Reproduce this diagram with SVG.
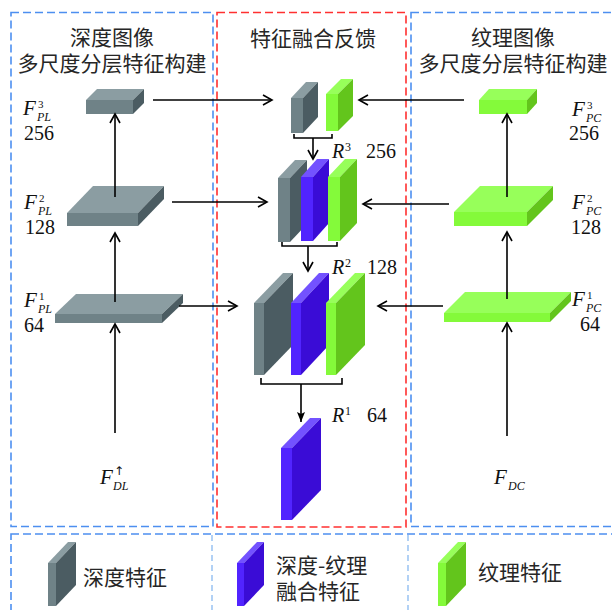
<svg xmlns="http://www.w3.org/2000/svg" width="612" height="610" viewBox="0 0 612 610">
<style>
.bx{fill:none;stroke:#4d8ff0;stroke-width:1.6;stroke-dasharray:8 4}
.rx{fill:none;stroke:#ff3030;stroke-width:1.6;stroke-dasharray:8 4}
.dv{fill:none;stroke:#7fb3ee;stroke-width:1.2;stroke-dasharray:6 4}
.gt{fill:#8b9da2}.gf{fill:#6f8287}.gs{fill:#4b5c62}
.bt{fill:#7352ff}.bf{fill:#5124ff}.bs{fill:#3a0cd6}
.lt{fill:#97ff5a}.lf{fill:#84fa3a}.ls{fill:#63c51c}
.cn{font-family:"Noto Sans CJK SC",sans-serif;font-size:21px;fill:#262626}
.sr{font-family:"Liberation Serif",serif;fill:#111}
.it{font-style:italic}
.ln{fill:none;stroke:#000;stroke-width:1.6}
</style>
<defs>
<marker id="ah" markerWidth="12" markerHeight="12" refX="10" refY="6" orient="auto" markerUnits="userSpaceOnUse"><path d="M1,1 L10,6 L1,11" fill="none" stroke="#000" stroke-width="1.6"/></marker>
<marker id="af" markerWidth="12" markerHeight="10" refX="10" refY="4" orient="auto" markerUnits="userSpaceOnUse"><path d="M0,0 L10,4 L0,8 L2,4 z" fill="#000"/></marker>
</defs>

<g id="frames">
<rect class="bx" x="11" y="12.5" width="202" height="514"/>
<rect class="rx" x="217" y="12.5" width="189" height="514.5"/>
<rect class="bx" x="411" y="12.5" width="215" height="514"/>
<rect class="bx" x="11" y="534" width="615" height="90"/>
<line class="dv" x1="212" y1="535" x2="212" y2="612"/>
<line class="dv" x1="408" y1="535" x2="408" y2="612"/>
</g>

<g id="titles">
<text class="cn" x="112" y="45" text-anchor="middle">深度图像</text>
<text class="cn" x="112" y="71" text-anchor="middle">多尺度分层特征构建</text>
<text class="cn" x="313" y="46" text-anchor="middle">特征融合反馈</text>
<text class="cn" x="513" y="45" text-anchor="middle">纹理图像</text>
<text class="cn" x="513" y="71" text-anchor="middle">多尺度分层特征构建</text>
</g>

<g id="F3PL">
<polygon class="gt" points="86,100 97,89 144,89 133,100"/>
<polygon class="gs" points="133,100 144,89 144,103 133,114"/>
<rect class="gf" x="86" y="100" width="47" height="14"/>
<text class="sr"><tspan class="it" x="23" y="115" font-size="21">F</tspan><tspan x="38" y="108" font-size="11">3</tspan><tspan class="it" x="37" y="121" font-size="12">PL</tspan></text>
<text class="sr" x="24" y="140" font-size="20">256</text>
</g>
<g id="F2PL">
<polygon class="gt" points="67,213 93,186 164,186 138,213"/>
<polygon class="gs" points="138,213 164,186 164,199 138,226"/>
<rect class="gf" x="67" y="213" width="71" height="13"/>
<text class="sr"><tspan class="it" x="24" y="209" font-size="21">F</tspan><tspan x="39" y="202" font-size="11">2</tspan><tspan class="it" x="38" y="215" font-size="12">PL</tspan></text>
<text class="sr" x="25" y="234" font-size="20">128</text>
</g>
<g id="F1PL">
<polygon class="gt" points="55,314 76,294 183,294 162,314"/>
<polygon class="gs" points="162,314 183,294 183,303 162,323"/>
<rect class="gf" x="55" y="314" width="107" height="9"/>
<text class="sr"><tspan class="it" x="24" y="307" font-size="21">F</tspan><tspan x="39" y="300" font-size="11">1</tspan><tspan class="it" x="38" y="313" font-size="12">PL</tspan></text>
<text class="sr" x="24" y="332" font-size="20">64</text>
</g>

<g id="F3PC">
<polygon class="lt" points="479,100 489,89 537,89 527,100"/>
<polygon class="ls" points="527,100 537,89 537,103 527,114"/>
<rect class="lf" x="479" y="100" width="48" height="14"/>
<text class="sr"><tspan class="it" x="572" y="116" font-size="21">F</tspan><tspan x="587" y="109" font-size="11">3</tspan><tspan class="it" x="586" y="122" font-size="12">PC</tspan></text>
<text class="sr" x="569" y="140" font-size="20">256</text>
</g>
<g id="F2PC">
<polygon class="lt" points="454,212 480,186 553,186 527,212"/>
<polygon class="ls" points="527,212 553,186 553,200 527,226"/>
<rect class="lf" x="454" y="212" width="73" height="14"/>
<text class="sr"><tspan class="it" x="572" y="209" font-size="21">F</tspan><tspan x="587" y="202" font-size="11">2</tspan><tspan class="it" x="586" y="215" font-size="12">PC</tspan></text>
<text class="sr" x="571" y="234" font-size="20">128</text>
</g>
<g id="F1PC">
<polygon class="lt" points="444,313 465,292 571,292 550,313"/>
<polygon class="ls" points="550,313 571,292 571,301 550,322"/>
<rect class="lf" x="444" y="313" width="106" height="9"/>
<text class="sr"><tspan class="it" x="572" y="306" font-size="21">F</tspan><tspan x="587" y="299" font-size="11">1</tspan><tspan class="it" x="586" y="312" font-size="12">PC</tspan></text>
<text class="sr" x="580" y="331" font-size="20">64</text>
</g>

<g id="R3">
<polygon class="gt" points="291,98 306,82 318,82 303,98"/>
<polygon class="gs" points="303,98 318,82 318,117 303,133"/>
<rect class="gf" x="291" y="98" width="12" height="35"/>
<polygon class="lt" points="326,94 341,79 353,79 338,94"/>
<polygon class="ls" points="338,94 353,79 353,116 338,131"/>
<rect class="lf" x="326" y="94" width="12" height="37"/>
<text class="sr"><tspan class="it" x="332" y="158" font-size="20">R</tspan><tspan x="345" y="151" font-size="12">3</tspan><tspan x="366" y="158" font-size="20">256</tspan></text>
</g>
<g id="R2">
<polygon class="gt" points="278,178 295,160 307,160 290,178"/>
<polygon class="gs" points="290,178 307,160 307,224 290,242"/>
<rect class="gf" x="278" y="178" width="12" height="64"/>
<polygon class="bt" points="301,177 317,159 329,159 313,177"/>
<polygon class="bs" points="313,177 329,159 329,223 313,241"/>
<rect class="bf" x="301" y="177" width="12" height="64"/>
<polygon class="lt" points="328,177 345,159 357,159 340,177"/>
<polygon class="ls" points="340,177 357,159 357,223 340,241"/>
<rect class="lf" x="328" y="177" width="12" height="64"/>
<text class="sr"><tspan class="it" x="332" y="274" font-size="20">R</tspan><tspan x="345" y="267" font-size="12">2</tspan><tspan x="367" y="274" font-size="20">128</tspan></text>
</g>
<g id="R1stage">
<polygon class="gt" points="254,303 283,273 293,273 264,303"/>
<polygon class="gs" points="264,303 293,273 293,345 264,375"/>
<rect class="gf" x="254" y="303" width="10" height="72"/>
<polygon class="bt" points="291,303 319,273 329,273 301,303"/>
<polygon class="bs" points="301,303 329,273 329,345 301,375"/>
<rect class="bf" x="291" y="303" width="10" height="72"/>
<polygon class="lt" points="326,303 355,273 365,273 336,303"/>
<polygon class="ls" points="336,303 365,273 365,345 336,375"/>
<rect class="lf" x="326" y="303" width="10" height="72"/>
</g>
<g id="R1">
<polygon class="bt" points="281,448 310,418 321,418 292,448"/>
<polygon class="bs" points="292,448 321,418 321,490 292,520"/>
<rect class="bf" x="281" y="448" width="11" height="72"/>
<text class="sr"><tspan class="it" x="332" y="422" font-size="20">R</tspan><tspan x="345" y="415" font-size="12">1</tspan><tspan x="367" y="422" font-size="20">64</tspan></text>
</g>

<g id="FDL">
<text class="sr"><tspan class="it" x="100" y="484" font-size="21">F</tspan><tspan x="114" y="475" font-size="12" font-family="DejaVu Sans, sans-serif">↑</tspan><tspan class="it" x="113" y="490" font-size="12">DL</tspan></text>
</g>
<g id="FDC">
<text class="sr"><tspan class="it" x="494" y="484" font-size="21">F</tspan><tspan class="it" x="508" y="490" font-size="12">DC</tspan></text>
</g>

<g id="connectors">
<line class="ln" x1="115" y1="197" x2="115" y2="114" marker-end="url(#ah)"/>
<line class="ln" x1="115" y1="302" x2="115" y2="233" marker-end="url(#ah)"/>
<line class="ln" x1="115" y1="433" x2="115" y2="324" marker-end="url(#ah)"/>
<line class="ln" x1="507" y1="197" x2="507" y2="114" marker-end="url(#ah)"/>
<line class="ln" x1="507" y1="299" x2="507" y2="232" marker-end="url(#ah)"/>
<line class="ln" x1="507" y1="436" x2="507" y2="323" marker-end="url(#ah)"/>
<line class="ln" x1="153" y1="100" x2="272" y2="100" marker-end="url(#ah)"/>
<line class="ln" x1="172" y1="202" x2="267" y2="202" marker-end="url(#ah)"/>
<line class="ln" x1="179" y1="306" x2="237" y2="306" marker-end="url(#ah)"/>
<line class="ln" x1="464" y1="100" x2="359" y2="100" marker-end="url(#ah)"/>
<line class="ln" x1="449" y1="204" x2="363" y2="204" marker-end="url(#ah)"/>
<line class="ln" x1="443" y1="306" x2="378" y2="306" marker-end="url(#ah)"/>
<path class="ln" d="M294,134 V138 H332 V134" stroke-width="1.3"/>
<line class="ln" x1="313" y1="138" x2="313" y2="159" marker-end="url(#ah)"/>
<path class="ln" d="M282,242 V246 H337 V242" stroke-width="1.3"/>
<line class="ln" x1="308" y1="246" x2="308" y2="271" marker-end="url(#ah)"/>
<path class="ln" d="M261,378 V384 H342 V378" stroke-width="1.3"/>
<line class="ln" x1="301" y1="384" x2="301" y2="422" marker-end="url(#af)"/>
</g>

<g id="legend-depth">
<polygon class="gt" points="48,563 68,542 76,542 56,563"/>
<polygon class="gs" points="56,563 76,542 76,585 56,606"/>
<rect class="gf" x="48" y="563" width="8" height="43"/>
<text class="cn" x="83" y="585">深度特征</text>
</g>
<g id="legend-fused">
<polygon class="bt" points="237,563 257,542 264,542 244,563"/>
<polygon class="bs" points="244,563 264,542 264,585 244,606"/>
<rect class="bf" x="237" y="563" width="7" height="43"/>
<text class="cn" x="276" y="573">深度-纹理</text>
<text class="cn" x="276" y="599">融合特征</text>
</g>
<g id="legend-texture">
<polygon class="lt" points="438,563 458,542 466,542 446,563"/>
<polygon class="ls" points="446,563 466,542 466,585 446,606"/>
<rect class="lf" x="438" y="563" width="8" height="43"/>
<text class="cn" x="478" y="580">纹理特征</text>
</g>
</svg>
